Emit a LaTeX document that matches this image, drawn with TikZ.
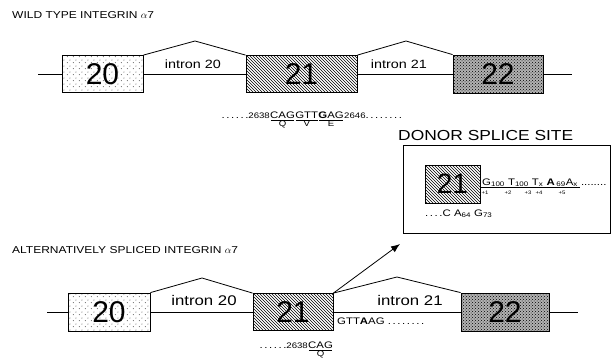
\documentclass[tikz,border=0pt]{standalone}
\usepackage{fontspec}
\setmainfont{Liberation Sans}[FakeStretch=1.2]
\newfontfamily\exonfont{Liberation Sans}
\usetikzlibrary{patterns,patterns.meta,arrows.meta}

\tikzdeclarepattern{
  name=sparsedots,
  type=uncolored,
  bottom left={(0pt,0pt)},
  top right={(6pt,6pt)},
  tile size={(6pt,6pt)},
  code={\fill (1.5pt,1.5pt) circle (0.5pt); \fill (4.5pt,4.5pt) circle (0.5pt);}
}

\tikzset{
  exon/.style={draw, line width=0.8pt, inner sep=0pt, minimum height=37, font=\exonfont\fontsize{30}{30}\selectfont},
  exonA/.style={exon, pattern=sparsedots},
  exonB/.style={exon, pattern=north west lines},
  exonC/.style={exon, preaction={fill=gray!60}, pattern=crosshatch dots},
  backbone/.style={line width=0.8pt},
  titlelab/.style={anchor=west, inner sep=0pt, font=\fontsize{10}{12}\selectfont},
  intronlab/.style={inner sep=0pt, font=\fontsize{12}{14}\selectfont},
  seq/.style={inner sep=0pt, anchor=base west, font=\fontsize{9.5}{11}\selectfont},
  codon/.style={seq, text depth=1.6pt},
  codonline/.style={line width=0.6pt, shorten <=0.8pt, shorten >=0.8pt},
  aa/.style={anchor=north, inner sep=1.2pt, font=\fontsize{8}{9}\selectfont},
  plus/.style={inner sep=0pt, font=\fontsize{5}{6}\selectfont},
}
\newcommand{\numsmall}[1]{{\fontsize{8}{9}\selectfont #1}}
\newcommand{\dotsix}{.\,.\,.\,.\,.\,.}
\newcommand{\doteight}{.\,.\,.\,.\,.\,.\,.\,.}

\begin{document}
\begin{tikzpicture}[x=1pt,y=1pt,yscale=-1]
\useasboundingbox (0,0) rectangle (614,364);

%Text: wild type title
\node[titlelab] (toptitle) at (12,15) {WILD TYPE INTEGRIN $\alpha$7};

%Shape: exons, wild type
\node[exonA, minimum width=81] (t20) at (102.5,74) {20};
\node[exonB, minimum width=111] (t21) at (301.5,74) {21};
\node[exonC, minimum width=90, minimum height=38] (t22) at (498,74) {22};
\coordinate (tstart) at (38,74);
\coordinate (tend) at (572,74);
\coordinate (tpeak20) at (195,41);
\coordinate (tpeak21) at (406,41);

%Straight Lines: backbone and introns
\draw[backbone] (tstart) -- (t20.west) (t20.east) -- (t21.west) (t21.east) -- (t22.west) (t22.east) -- (tend);
\draw[backbone] (t20.north east) -- (tpeak20) -- (t21.north west);
\draw[backbone] (t21.north east) -- (tpeak21) -- (t22.north west);
\node[intronlab] (tlab20) at (193,64) {intron 20};
\node[intronlab] (tlab21) at (399,64) {intron 21};

%Text: wild type sequence
\node[codon] (tcag) at (270,118) {CAG};
\node[seq, anchor=base east] (tpre) at (tcag.base west) {\dotsix\numsmall{2638}};
\node[codon] (tgtt) at (tcag.base east) {GTT};
\node[codon] (tgag) at (tgtt.base east) {\textbf{G}AG};
\node[seq] (tpost) at (tgag.base east) {\numsmall{2646}\doteight};
\draw[codonline] (tcag.south west) -- (tcag.south east);
\draw[codonline] (tgtt.south west) -- (tgtt.south east);
\draw[codonline] (tgag.south west) -- (tgag.south east);
\node[aa] (tq) at (tcag.south) {Q};
\node[aa] (tv) at (tgtt.south) {V};
\node[aa] (te) at (tgag.south) {E};

%Shape: donor splice site panel
\node[titlelab, font=\fontsize{14.5}{16}\selectfont] (donortitle) at (398,136) {DONOR SPLICE SITE};
\node[draw, line width=0.8pt, minimum width=207, minimum height=88, inner sep=0pt] (donor) at (506.5,189) {};
\node[exonB, minimum width=55, minimum height=38, font=\exonfont\fontsize{28}{28}\selectfont] (d21) at (452.5,184) {21};
\coordinate (dend) at (580,187);
\draw[line width=0.6pt] (d21.east |- dend) -- (dend);
\node[seq, font=\fontsize{9.5}{11}\selectfont] (dseq) at (482,185) {G\textsubscript{100} T\textsubscript{100} T\textsubscript{x} \textbf{A}\,\textsubscript{69}A\textsubscript{x} ........};
\node[plus] (p1) at (485,193) {+1};
\node[plus] (p2) at (508,193) {+2};
\node[plus] (p3) at (528,193) {+3};
\node[plus] (p4) at (539,193) {+4};
\node[plus] (p5) at (562,193) {+5};
\node[seq] (dacc) at (425,216) {.\,.\,.\,.C A\textsubscript{64} G\textsubscript{73}};

%Text: alternatively spliced title
\node[titlelab] (bottitle) at (12,250) {ALTERNATIVELY SPLICED INTEGRIN $\alpha$7};

%Shape: exons, alternatively spliced
\node[exonA, minimum width=82, minimum height=38] (b20) at (109,312) {20};
\node[exonB, minimum width=80] (b21) at (293,312) {21};
\node[exonC, minimum width=88, minimum height=38] (b22) at (505,312) {22};
\coordinate (bstart) at (47,312);
\coordinate (bend) at (578,312);
\coordinate (bpeak20) at (202,278);
\coordinate (bpeak21) at (397,277);
\coordinate (tip) at (400,244);

%Straight Lines: backbone and introns
\draw[backbone] (bstart) -- (b20.west) (b20.east) -- (b21.west) (b21.east) -- (b22.west) (b22.east) -- (bend);
\draw[backbone] (b20.north east) -- (bpeak20) -- (b21.north west);
\draw[backbone] (b21.north east) -- (bpeak21) -- (b22.north west);
\draw[backbone, -{Latex[length=9pt,width=7pt]}] (b21.north east) -- (tip);
\node[intronlab, font=\fontsize{14}{16}\selectfont] (blab20) at (204,300) {intron 20};
\node[intronlab, font=\fontsize{14}{16}\selectfont] (blab21) at (410,300) {intron 21};
\node[seq] (bgtt) at (337,324) {GTT\textbf{A}AG \doteight};

%Text: alternatively spliced sequence
\node[codon] (bcag) at (308,348) {CAG};
\node[seq, anchor=base east] (bpre) at (bcag.base west) {\dotsix\numsmall{2638}};
\draw[codonline] (bcag.south west) -- (bcag.south east);
\node[aa] (bq) at (bcag.south) {Q};
\end{tikzpicture}
\end{document}
